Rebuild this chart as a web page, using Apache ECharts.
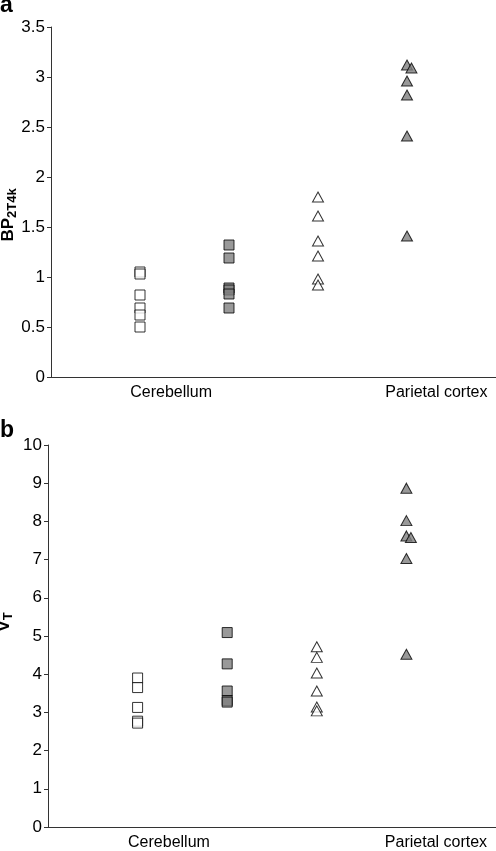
<!DOCTYPE html>
<html>
<head>
<meta charset="utf-8">
<script src="https://cdn.jsdelivr.net/npm/echarts@6/dist/echarts.min.js"></script>
<style>
  html, body { margin: 0; padding: 0; background: #fff; }
  #chart { width: 496px; height: 851px; }
</style>
</head>
<body>
<div id="chart"></div>
<script>
// ---- Data ----
const xTickLabels = ['Cerebellum', 'Parietal cortex'];
const xTickValues = [1.35, 4.33];
const groupX = [1, 2, 3, 4];

// Panel a: BP2T4k
const bpOpenSquares = [1.05, 1.03, 0.82, 0.69, 0.62, 0.50];
const bpGraySquares = [1.32, 1.19, 0.89, 0.87, 0.83, 0.69];
const bpOpenTriangles = [1.80, 1.61, 1.36, 1.21, 0.98, 0.92];
const bpGrayTriangles = [3.12, 3.09, 2.96, 2.82, 2.41, 1.41];
const bpGrayTrianglesJitter = [0, 0.05, 0, 0, 0, 0];

// Panel b: VT
const vtOpenSquares = [3.90, 3.65, 3.13, 2.77, 2.72];
const vtGraySquares = [5.09, 4.27, 3.56, 3.31, 3.27];
const vtOpenTriangles = [4.72, 4.44, 4.03, 3.56, 3.14, 3.04];
const vtGrayTriangles = [8.87, 8.02, 7.62, 7.58, 7.03, 4.52];
const vtGrayTrianglesJitter = [0, 0, 0, 0.05, 0, 0];

const yTicksA = { min: 0, max: 3.5, interval: 0.5 };
const yTicksB = { min: 0, max: 10, interval: 1 };

// ---- Helpers ----
function pts(x, vals, jitter) {
  return vals.map((v, i) => [x + (jitter ? jitter[i] : 0), v]);
}
const FONT = 'Liberation Sans, Arial, sans-serif';
const openStyle = { color: '#ffffff', borderColor: '#000000', borderWidth: 1 };
const grayStyle = { color: '#808080', borderColor: '#000000', borderWidth: 1 };

function sq(idx, data, style) {
  return { type: 'scatter', xAxisIndex: idx, yAxisIndex: idx, data: data,
    symbol: 'rect', symbolSize: 10, itemStyle: style, silent: true, z: 3 };
}
function tri(idx, data, style) {
  return { type: 'scatter', xAxisIndex: idx, yAxisIndex: idx, data: data,
    symbol: 'triangle', symbolSize: [11, 10], itemStyle: style, silent: true, z: 3 };
}

function xAxisCfg(gridIndex) {
  return {
    type: 'value', gridIndex: gridIndex, min: 0, max: 5,
    axisLine: { show: true, lineStyle: { color: '#333', width: 1 } },
    axisTick: { show: false },
    splitLine: { show: false },
    axisLabel: {
      customValues: xTickValues,
      formatter: function (v) {
        const i = xTickValues.findIndex(t => Math.abs(t - v) < 1e-6);
        return i >= 0 ? xTickLabels[i] : '';
      },
      color: '#000', fontSize: 16, fontFamily: FONT, margin: 8
    }
  };
}
function yAxisCfg(gridIndex, ticks, name, nameGap, namePad) {
  return {
    type: 'value', gridIndex: gridIndex, min: ticks.min, max: ticks.max, interval: ticks.interval,
    axisLine: { show: true, lineStyle: { color: '#333', width: 1 } },
    axisTick: { show: true, length: 4, lineStyle: { color: '#333' } },
    splitLine: { show: false },
    axisLabel: { color: '#000', fontSize: 17, fontFamily: FONT, margin: 6 },
    name: name, nameLocation: 'middle', nameGap: nameGap, nameRotate: 90,
    nameMoveOverlap: false,
    nameTextStyle: {
      padding: namePad,
      rich: {
        m: { fontSize: 17, fontWeight: 'bold', fontFamily: FONT, color: '#000' },
        s: { fontSize: 13, fontWeight: 'bold', fontFamily: FONT, color: '#000', padding: [9, 0, 0, 0] }
      }
    }
  };
}

const chart = echarts.init(document.getElementById('chart'), null, { renderer: 'canvas' });
chart.setOption({
  backgroundColor: '#fff',
  animation: false,
  title: [
    { text: 'a', left: 0, top: -6, padding: 0,
      textStyle: { fontSize: 23, fontWeight: 'bold', fontFamily: FONT, color: '#000' } },
    { text: 'b', left: 0, top: 419, padding: 0,
      textStyle: { fontSize: 23, fontWeight: 'bold', fontFamily: FONT, color: '#000' } }
  ],
  grid: [
    { left: 51, top: 27, width: 445, height: 350, outerBoundsMode: 'none', containLabel: false },
    { left: 48, top: 445, width: 448, height: 382, outerBoundsMode: 'none', containLabel: false }
  ],
  xAxis: [xAxisCfg(0), xAxisCfg(1)],
  yAxis: [
    yAxisCfg(0, yTicksA, '{m|BP}{s|2T4k}', 32, [0, 26, 0, 0]),
    yAxisCfg(1, yTicksB, '{m|V}{s|T}', 33, [0, 0, 0, 28])
  ],
  series: [
    sq(0, pts(groupX[0], bpOpenSquares), openStyle),
    sq(0, pts(groupX[1], bpGraySquares), grayStyle),
    tri(0, pts(groupX[2], bpOpenTriangles), openStyle),
    tri(0, pts(groupX[3], bpGrayTriangles, bpGrayTrianglesJitter), grayStyle),
    sq(1, pts(groupX[0], vtOpenSquares), openStyle),
    sq(1, pts(groupX[1], vtGraySquares), grayStyle),
    tri(1, pts(groupX[2], vtOpenTriangles), openStyle),
    tri(1, pts(groupX[3], vtGrayTriangles, vtGrayTrianglesJitter), grayStyle)
  ]
});
</script>
</body>
</html>
